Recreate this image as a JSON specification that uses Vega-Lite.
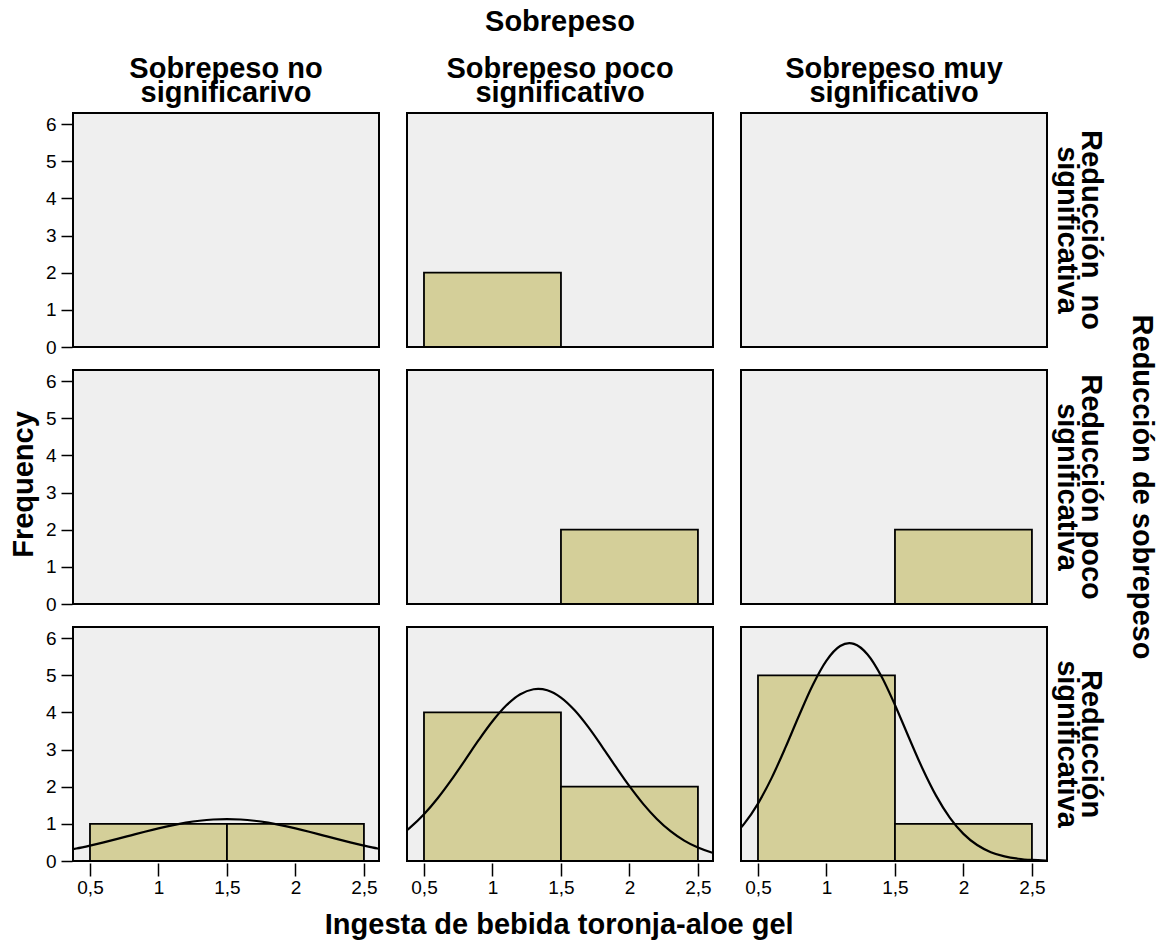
{
  "$schema": "https://vega.github.io/schema/vega-lite/v6.json",
  "padding": {"left": 10, "top": 8, "right": 5, "bottom": 0},
  "background": "white",
  "config": {
    "font": "Liberation Sans",
    "view": {"stroke": "black", "strokeWidth": 2, "fill": "#efefef"},
    "axis": {"grid": false, "domain": false, "tickColor": "black", "tickWidth": 1.5, "labelColor": "black", "labelFont": "Liberation Sans", "labelFontSize": 19, "title": null},
    "header": {"labelFont": "Liberation Sans", "titleFont": "Liberation Sans", "labelColor": "black", "titleColor": "black"},
    "title": {"font": "Liberation Sans", "fontSize": 29, "fontWeight": "bold", "color": "black"}
  },
  "title": {"text": "Ingesta de bebida toronja-aloe gel", "orient": "bottom", "anchor": "middle", "frame": "bounds", "offset": 14, "dx": -24},
  "vconcat": [
    {
      "title": {"text": "Frequency", "orient": "left", "anchor": "middle", "frame": "bounds", "offset": 6, "dx": -32},
      "data": {"values": [
        {"kind": "none", "Sobrepeso": "Sobrepeso no|significarivo", "Reduccion": "Reducción\u00a0 no|significativa"},
        {"kind": "none", "Sobrepeso": "Sobrepeso muy|significativo", "Reduccion": "Reducción\u00a0 no|significativa"},
        {"kind": "none", "Sobrepeso": "Sobrepeso no|significarivo", "Reduccion": "Reducción poco|significativa"},
        {"kind": "bar", "Sobrepeso": "Sobrepeso poco|significativo", "Reduccion": "Reducción\u00a0 no|significativa", "x": 0.5, "xe": 1.5, "y": 2},
        {"kind": "bar", "Sobrepeso": "Sobrepeso poco|significativo", "Reduccion": "Reducción poco|significativa", "x": 1.5, "xe": 2.5, "y": 2},
        {"kind": "bar", "Sobrepeso": "Sobrepeso muy|significativo", "Reduccion": "Reducción poco|significativa", "x": 1.5, "xe": 2.5, "y": 2},
        {"kind": "bar", "Sobrepeso": "Sobrepeso no|significarivo", "Reduccion": "Reducción|significativa", "x": 0.5, "xe": 1.5, "y": 1},
        {"kind": "bar", "Sobrepeso": "Sobrepeso no|significarivo", "Reduccion": "Reducción|significativa", "x": 1.5, "xe": 2.5, "y": 1},
        {"kind": "bar", "Sobrepeso": "Sobrepeso poco|significativo", "Reduccion": "Reducción|significativa", "x": 0.5, "xe": 1.5, "y": 4},
        {"kind": "bar", "Sobrepeso": "Sobrepeso poco|significativo", "Reduccion": "Reducción|significativa", "x": 1.5, "xe": 2.5, "y": 2},
        {"kind": "bar", "Sobrepeso": "Sobrepeso muy|significativo", "Reduccion": "Reducción|significativa", "x": 0.5, "xe": 1.5, "y": 5},
        {"kind": "bar", "Sobrepeso": "Sobrepeso muy|significativo", "Reduccion": "Reducción|significativa", "x": 1.5, "xe": 2.5, "y": 1},

        {"kind": "curve", "Sobrepeso": "Sobrepeso no|significarivo", "Reduccion": "Reducción|significativa", "x": 0.376, "y": 0.319},
        {"kind": "curve", "Sobrepeso": "Sobrepeso no|significarivo", "Reduccion": "Reducción|significativa", "x": 0.4, "y": 0.336},
        {"kind": "curve", "Sobrepeso": "Sobrepeso no|significarivo", "Reduccion": "Reducción|significativa", "x": 0.5, "y": 0.415},
        {"kind": "curve", "Sobrepeso": "Sobrepeso no|significarivo", "Reduccion": "Reducción|significativa", "x": 0.6, "y": 0.502},
        {"kind": "curve", "Sobrepeso": "Sobrepeso no|significarivo", "Reduccion": "Reducción|significativa", "x": 0.7, "y": 0.595},
        {"kind": "curve", "Sobrepeso": "Sobrepeso no|significarivo", "Reduccion": "Reducción|significativa", "x": 0.8, "y": 0.691},
        {"kind": "curve", "Sobrepeso": "Sobrepeso no|significarivo", "Reduccion": "Reducción|significativa", "x": 0.9, "y": 0.787},
        {"kind": "curve", "Sobrepeso": "Sobrepeso no|significarivo", "Reduccion": "Reducción|significativa", "x": 1.0, "y": 0.878},
        {"kind": "curve", "Sobrepeso": "Sobrepeso no|significarivo", "Reduccion": "Reducción|significativa", "x": 1.1, "y": 0.961},
        {"kind": "curve", "Sobrepeso": "Sobrepeso no|significarivo", "Reduccion": "Reducción|significativa", "x": 1.2, "y": 1.031},
        {"kind": "curve", "Sobrepeso": "Sobrepeso no|significarivo", "Reduccion": "Reducción|significativa", "x": 1.3, "y": 1.084},
        {"kind": "curve", "Sobrepeso": "Sobrepeso no|significarivo", "Reduccion": "Reducción|significativa", "x": 1.4, "y": 1.117},
        {"kind": "curve", "Sobrepeso": "Sobrepeso no|significarivo", "Reduccion": "Reducción|significativa", "x": 1.5, "y": 1.128},
        {"kind": "curve", "Sobrepeso": "Sobrepeso no|significarivo", "Reduccion": "Reducción|significativa", "x": 1.6, "y": 1.117},
        {"kind": "curve", "Sobrepeso": "Sobrepeso no|significarivo", "Reduccion": "Reducción|significativa", "x": 1.7, "y": 1.084},
        {"kind": "curve", "Sobrepeso": "Sobrepeso no|significarivo", "Reduccion": "Reducción|significativa", "x": 1.8, "y": 1.031},
        {"kind": "curve", "Sobrepeso": "Sobrepeso no|significarivo", "Reduccion": "Reducción|significativa", "x": 1.9, "y": 0.961},
        {"kind": "curve", "Sobrepeso": "Sobrepeso no|significarivo", "Reduccion": "Reducción|significativa", "x": 2.0, "y": 0.878},
        {"kind": "curve", "Sobrepeso": "Sobrepeso no|significarivo", "Reduccion": "Reducción|significativa", "x": 2.1, "y": 0.787},
        {"kind": "curve", "Sobrepeso": "Sobrepeso no|significarivo", "Reduccion": "Reducción|significativa", "x": 2.2, "y": 0.691},
        {"kind": "curve", "Sobrepeso": "Sobrepeso no|significarivo", "Reduccion": "Reducción|significativa", "x": 2.3, "y": 0.595},
        {"kind": "curve", "Sobrepeso": "Sobrepeso no|significarivo", "Reduccion": "Reducción|significativa", "x": 2.4, "y": 0.502},
        {"kind": "curve", "Sobrepeso": "Sobrepeso no|significarivo", "Reduccion": "Reducción|significativa", "x": 2.5, "y": 0.415},
        {"kind": "curve", "Sobrepeso": "Sobrepeso no|significarivo", "Reduccion": "Reducción|significativa", "x": 2.6, "y": 0.336},
        {"kind": "curve", "Sobrepeso": "Sobrepeso no|significarivo", "Reduccion": "Reducción|significativa", "x": 2.61, "y": 0.329},

        {"kind": "curve", "Sobrepeso": "Sobrepeso poco|significativo", "Reduccion": "Reducción|significativa", "x": 0.376, "y": 0.831},
        {"kind": "curve", "Sobrepeso": "Sobrepeso poco|significativo", "Reduccion": "Reducción|significativa", "x": 0.4, "y": 0.905},
        {"kind": "curve", "Sobrepeso": "Sobrepeso poco|significativo", "Reduccion": "Reducción|significativa", "x": 0.5, "y": 1.26},
        {"kind": "curve", "Sobrepeso": "Sobrepeso poco|significativo", "Reduccion": "Reducción|significativa", "x": 0.6, "y": 1.691},
        {"kind": "curve", "Sobrepeso": "Sobrepeso poco|significativo", "Reduccion": "Reducción|significativa", "x": 0.7, "y": 2.185},
        {"kind": "curve", "Sobrepeso": "Sobrepeso poco|significativo", "Reduccion": "Reducción|significativa", "x": 0.8, "y": 2.718},
        {"kind": "curve", "Sobrepeso": "Sobrepeso poco|significativo", "Reduccion": "Reducción|significativa", "x": 0.9, "y": 3.259},
        {"kind": "curve", "Sobrepeso": "Sobrepeso poco|significativo", "Reduccion": "Reducción|significativa", "x": 1.0, "y": 3.762},
        {"kind": "curve", "Sobrepeso": "Sobrepeso poco|significativo", "Reduccion": "Reducción|significativa", "x": 1.1, "y": 4.185},
        {"kind": "curve", "Sobrepeso": "Sobrepeso poco|significativo", "Reduccion": "Reducción|significativa", "x": 1.2, "y": 4.482},
        {"kind": "curve", "Sobrepeso": "Sobrepeso poco|significativo", "Reduccion": "Reducción|significativa", "x": 1.3, "y": 4.624},
        {"kind": "curve", "Sobrepeso": "Sobrepeso poco|significativo", "Reduccion": "Reducción|significativa", "x": 1.3333, "y": 4.634},
        {"kind": "curve", "Sobrepeso": "Sobrepeso poco|significativo", "Reduccion": "Reducción|significativa", "x": 1.4, "y": 4.596},
        {"kind": "curve", "Sobrepeso": "Sobrepeso poco|significativo", "Reduccion": "Reducción|significativa", "x": 1.5, "y": 4.399},
        {"kind": "curve", "Sobrepeso": "Sobrepeso poco|significativo", "Reduccion": "Reducción|significativa", "x": 1.6, "y": 4.056},
        {"kind": "curve", "Sobrepeso": "Sobrepeso poco|significativo", "Reduccion": "Reducción|significativa", "x": 1.7, "y": 3.602},
        {"kind": "curve", "Sobrepeso": "Sobrepeso poco|significativo", "Reduccion": "Reducción|significativa", "x": 1.8, "y": 3.081},
        {"kind": "curve", "Sobrepeso": "Sobrepeso poco|significativo", "Reduccion": "Reducción|significativa", "x": 1.9, "y": 2.538},
        {"kind": "curve", "Sobrepeso": "Sobrepeso poco|significativo", "Reduccion": "Reducción|significativa", "x": 2.0, "y": 2.014},
        {"kind": "curve", "Sobrepeso": "Sobrepeso poco|significativo", "Reduccion": "Reducción|significativa", "x": 2.1, "y": 1.539},
        {"kind": "curve", "Sobrepeso": "Sobrepeso poco|significativo", "Reduccion": "Reducción|significativa", "x": 2.2, "y": 1.133},
        {"kind": "curve", "Sobrepeso": "Sobrepeso poco|significativo", "Reduccion": "Reducción|significativa", "x": 2.3, "y": 0.804},
        {"kind": "curve", "Sobrepeso": "Sobrepeso poco|significativo", "Reduccion": "Reducción|significativa", "x": 2.4, "y": 0.549},
        {"kind": "curve", "Sobrepeso": "Sobrepeso poco|significativo", "Reduccion": "Reducción|significativa", "x": 2.5, "y": 0.361},
        {"kind": "curve", "Sobrepeso": "Sobrepeso poco|significativo", "Reduccion": "Reducción|significativa", "x": 2.6, "y": 0.229},
        {"kind": "curve", "Sobrepeso": "Sobrepeso poco|significativo", "Reduccion": "Reducción|significativa", "x": 2.61, "y": 0.218},

        {"kind": "curve", "Sobrepeso": "Sobrepeso muy|significativo", "Reduccion": "Reducción|significativa", "x": 0.376, "y": 0.899},
        {"kind": "curve", "Sobrepeso": "Sobrepeso muy|significativo", "Reduccion": "Reducción|significativa", "x": 0.4, "y": 1.006},
        {"kind": "curve", "Sobrepeso": "Sobrepeso muy|significativo", "Reduccion": "Reducción|significativa", "x": 0.5, "y": 1.546},
        {"kind": "curve", "Sobrepeso": "Sobrepeso muy|significativo", "Reduccion": "Reducción|significativa", "x": 0.6, "y": 2.238},
        {"kind": "curve", "Sobrepeso": "Sobrepeso muy|significativo", "Reduccion": "Reducción|significativa", "x": 0.7, "y": 3.051},
        {"kind": "curve", "Sobrepeso": "Sobrepeso muy|significativo", "Reduccion": "Reducción|significativa", "x": 0.8, "y": 3.918},
        {"kind": "curve", "Sobrepeso": "Sobrepeso muy|significativo", "Reduccion": "Reducción|significativa", "x": 0.9, "y": 4.738},
        {"kind": "curve", "Sobrepeso": "Sobrepeso muy|significativo", "Reduccion": "Reducción|significativa", "x": 1.0, "y": 5.395},
        {"kind": "curve", "Sobrepeso": "Sobrepeso muy|significativo", "Reduccion": "Reducción|significativa", "x": 1.1, "y": 5.787},
        {"kind": "curve", "Sobrepeso": "Sobrepeso muy|significativo", "Reduccion": "Reducción|significativa", "x": 1.1667, "y": 5.864},
        {"kind": "curve", "Sobrepeso": "Sobrepeso muy|significativo", "Reduccion": "Reducción|significativa", "x": 1.2, "y": 5.845},
        {"kind": "curve", "Sobrepeso": "Sobrepeso muy|significativo", "Reduccion": "Reducción|significativa", "x": 1.3, "y": 5.56},
        {"kind": "curve", "Sobrepeso": "Sobrepeso muy|significativo", "Reduccion": "Reducción|significativa", "x": 1.4, "y": 4.98},
        {"kind": "curve", "Sobrepeso": "Sobrepeso muy|significativo", "Reduccion": "Reducción|significativa", "x": 1.5, "y": 4.202},
        {"kind": "curve", "Sobrepeso": "Sobrepeso muy|significativo", "Reduccion": "Reducción|significativa", "x": 1.6, "y": 3.339},
        {"kind": "curve", "Sobrepeso": "Sobrepeso muy|significativo", "Reduccion": "Reducción|significativa", "x": 1.7, "y": 2.498},
        {"kind": "curve", "Sobrepeso": "Sobrepeso muy|significativo", "Reduccion": "Reducción|significativa", "x": 1.8, "y": 1.76},
        {"kind": "curve", "Sobrepeso": "Sobrepeso muy|significativo", "Reduccion": "Reducción|significativa", "x": 1.9, "y": 1.168},
        {"kind": "curve", "Sobrepeso": "Sobrepeso muy|significativo", "Reduccion": "Reducción|significativa", "x": 2.0, "y": 0.73},
        {"kind": "curve", "Sobrepeso": "Sobrepeso muy|significativo", "Reduccion": "Reducción|significativa", "x": 2.1, "y": 0.43},
        {"kind": "curve", "Sobrepeso": "Sobrepeso muy|significativo", "Reduccion": "Reducción|significativa", "x": 2.2, "y": 0.238},
        {"kind": "curve", "Sobrepeso": "Sobrepeso muy|significativo", "Reduccion": "Reducción|significativa", "x": 2.3, "y": 0.124},
        {"kind": "curve", "Sobrepeso": "Sobrepeso muy|significativo", "Reduccion": "Reducción|significativa", "x": 2.4, "y": 0.061},
        {"kind": "curve", "Sobrepeso": "Sobrepeso muy|significativo", "Reduccion": "Reducción|significativa", "x": 2.5, "y": 0.028},
        {"kind": "curve", "Sobrepeso": "Sobrepeso muy|significativo", "Reduccion": "Reducción|significativa", "x": 2.6, "y": 0.012},
        {"kind": "curve", "Sobrepeso": "Sobrepeso muy|significativo", "Reduccion": "Reducción|significativa", "x": 2.61, "y": 0.011}
      ]},
      "facet": {
        "column": {
          "field": "Sobrepeso", "type": "nominal", "title": "Sobrepeso",
          "sort": ["Sobrepeso no|significarivo", "Sobrepeso poco|significativo", "Sobrepeso muy|significativo"],
          "header": {"labelExpr": "split(datum.value, '|')", "labelFontSize": 29, "labelFontWeight": "bold", "labelLineHeight": 24, "labelPadding": 4, "titleFontSize": 29, "titleFontWeight": "bold", "titlePadding": 8}
        },
        "row": {
          "field": "Reduccion", "type": "nominal", "title": "Reducción de sobrepeso",
          "sort": ["Reducción\u00a0 no|significativa", "Reducción poco|significativa", "Reducción|significativa"],
          "header": {"labelOrient": "right", "titleOrient": "right", "labelAngle": 90, "titleAngle": 90, "labelExpr": "split(datum.value, '|')", "labelFontSize": 29, "labelFontWeight": "bold", "labelLineHeight": 24, "labelPadding": 4, "titleFontSize": 29, "titleFontWeight": "bold", "titlePadding": 12}
        }
      },
      "spacing": {"column": 26, "row": 20},
      "spec": {
        "width": 306,
        "height": 234,
        "encoding": {
          "x": {"field": "x", "type": "quantitative", "scale": {"domain": [0.376, 2.61], "nice": false, "zero": false},
                "axis": {"values": [0.5, 1, 1.5, 2, 2.5], "format": "~g", "labelExpr": "replace(datum.label, '.', ',')", "tickSize": 13, "labelPadding": 2, "labelFlush": false}},
          "y": {"field": "y", "type": "quantitative", "scale": {"domain": [0, 6.3], "nice": false},
                "axis": {"values": [0, 1, 2, 3, 4, 5, 6], "tickSize": 11, "labelPadding": 5, "labelOverlap": false}}
        },
        "layer": [
          {
            "transform": [{"filter": "datum.kind == 'bar'"}],
            "mark": {"type": "rect", "fill": "#d4cf99", "stroke": "black", "strokeWidth": 1.8},
            "encoding": {
              "x2": {"field": "xe"},
              "y2": {"datum": 0}
            }
          },
          {
            "transform": [{"filter": "datum.kind == 'curve'"}],
            "mark": {"type": "line", "color": "black", "strokeWidth": 2.2, "interpolate": "monotone", "clip": true},
            "encoding": {
              "order": {"field": "x", "type": "quantitative"}
            }
          }
        ]
      }
    }
  ]
}
